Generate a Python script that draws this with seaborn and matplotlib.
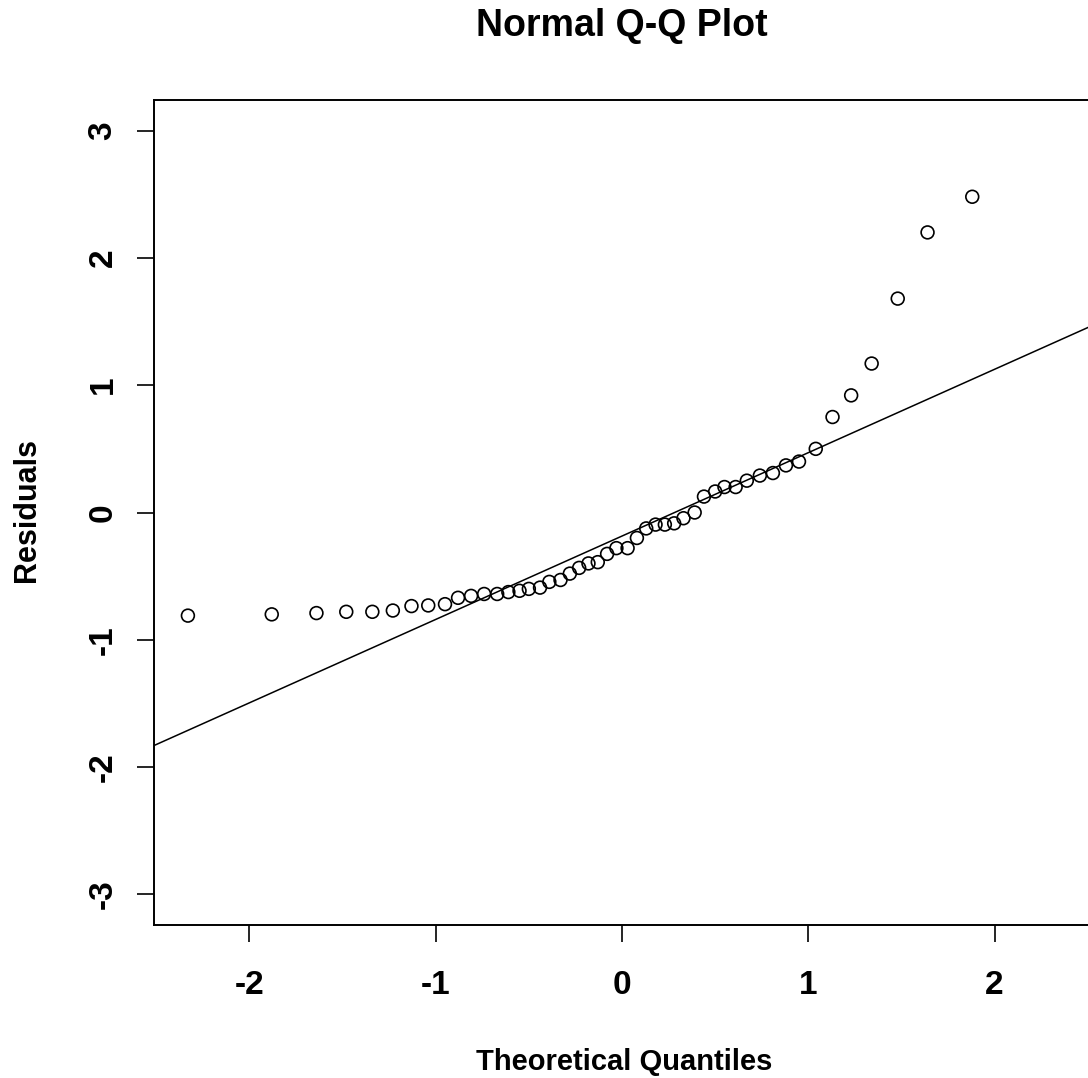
import matplotlib
matplotlib.use("Agg")
import matplotlib.pyplot as plt
import seaborn as sns
import numpy as np
import pandas as pd

# ---- data ----
theoretical = [-2.33, -1.88, -1.64, -1.48, -1.34, -1.23, -1.13, -1.04, -0.95, -0.88,
               -0.81, -0.74, -0.67, -0.61, -0.55, -0.50, -0.44, -0.39, -0.33, -0.28,
               -0.23, -0.18, -0.13, -0.08, -0.03, 0.03, 0.08, 0.13, 0.18, 0.23,
               0.28, 0.33, 0.39, 0.44, 0.50, 0.55, 0.61, 0.67, 0.74, 0.81,
               0.88, 0.95, 1.04, 1.13, 1.23, 1.34, 1.48, 1.64, 1.88]
residuals = [-0.81, -0.80, -0.79, -0.78, -0.78, -0.77, -0.735, -0.73, -0.72, -0.67,
             -0.655, -0.64, -0.64, -0.625, -0.615, -0.60, -0.59, -0.545, -0.53, -0.48,
             -0.435, -0.40, -0.39, -0.325, -0.28, -0.28, -0.20, -0.125, -0.095, -0.095,
             -0.085, -0.045, 0.0, 0.125, 0.165, 0.20, 0.20, 0.25, 0.29, 0.31,
             0.37, 0.40, 0.50, 0.75, 0.92, 1.17, 1.68, 2.20, 2.48]
line_intercept = -0.185
line_slope = 0.655
x_ticks = [-2, -1, 0, 1, 2]
y_ticks = [-3, -2, -1, 0, 1, 2, 3]
title = "Normal Q-Q Plot"
x_label = "Theoretical Quantiles"
y_label = "Residuals"

df = pd.DataFrame({"Theoretical Quantiles": theoretical, "Residuals": residuals})

sns.set_theme(style="ticks")
FONT = ["Liberation Sans Narrow", "Liberation Sans", "DejaVu Sans"]
plt.rcParams["font.family"] = FONT
plt.rcParams["font.weight"] = "bold"
for k in ["text.color", "axes.labelcolor", "xtick.color", "ytick.color", "axes.edgecolor"]:
    plt.rcParams[k] = "black"

W, H = 1088, 1078
fig = plt.figure(figsize=(W / 100, H / 100), dpi=100, facecolor="white")
left, right, top, bottom = 154, 1090, 100, 925
ax = fig.add_axes([left / W, 1 - bottom / H, (right - left) / W, (bottom - top) / H])
ax.set_facecolor("white")

sns.scatterplot(data=df, x="Theoretical Quantiles", y="Residuals", ax=ax,
                marker="o", s=85, facecolors="none", edgecolor="black",
                linewidth=1.2, zorder=3, clip_on=True)
for coll in ax.collections:
    coll.set_facecolor("none")
    coll.set_edgecolor("black")

ax.axline((0, line_intercept), slope=line_slope, color="black", lw=1.1, zorder=2)

ax.set_xlim(-2.512, 2.512)
ax.set_ylim(-3.24, 3.24)
ax.set_xticks(x_ticks)
ax.set_yticks(y_ticks)
ax.set_xticklabels([str(t) for t in x_ticks], fontsize=24, fontweight="bold", color="black")
ax.set_yticklabels([str(t) for t in y_ticks], fontsize=24, fontweight="bold",
                   rotation=90, va="center", color="black")
ax.tick_params(axis="both", direction="out", length=12.5, width=1.2, color="black")
ax.tick_params(axis="x", pad=20)
ax.tick_params(axis="y", pad=13)
for sp in ax.spines.values():
    sp.set_visible(True)
    sp.set_color("black")
    sp.set_linewidth(1.4)
ax.set_xlabel("")
ax.set_ylabel("")
ax.grid(False)

fig.text(622 / W, 1 - 26 / H, title, ha="center", va="center",
         fontsize=27, fontweight="bold", family=FONT, color="black")
fig.text(624 / W, 1 - 1062 / H, x_label, ha="center", va="center",
         fontsize=21, fontweight="bold", family=FONT, color="black")
fig.text(27 / W, 1 - 510 / H, y_label, ha="center", va="center", rotation=90,
         fontsize=22, fontweight="bold", family=FONT, color="black")

fig.savefig("out.png", dpi=100, facecolor="white")
